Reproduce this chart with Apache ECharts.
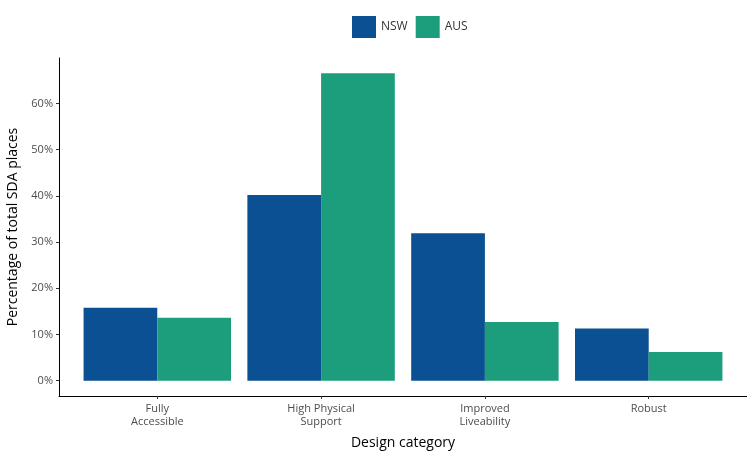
<!DOCTYPE html>
<html>
<head>
<meta charset="utf-8">
<script src="https://cdn.jsdelivr.net/npm/echarts@6/dist/echarts.min.js"></script>
<style>
html,body{margin:0;padding:0;background:#fff;}
#chart{width:747px;height:452px;}
</style>
</head>
<body>
<div id="chart"></div>
<script>
// ---- data ----
const categories = ["Fully\nAccessible", "High Physical\nSupport", "Improved\nLiveability", "Robust"];
const nswValues = [15.8, 40.2, 31.9, 11.3];
const ausValues = [13.6, 66.5, 12.7, 6.2];
const yTicks = [0, 10, 20, 30, 40, 50, 60];
const seriesNames = ["NSW", "AUS"];

// ---- layout (ggplot-like expansion) ----
const W = 747, H = 452;
const gridLeft = 59, gridRight = 0, gridTop = 58, gridBottom = 56;
const plotW = W - gridLeft - gridRight;
const n = categories.length;
const xMin = 0.4, xMax = n + 0.6;
const unit = plotW / (xMax - xMin);
const dataMax = Math.max(...nswValues, ...ausValues);
const yMin = -0.05 * dataMax, yMax = dataMax * 1.05;
const fontFam = "'Open Sans', 'Noto Sans', sans-serif";

const chart = echarts.init(document.getElementById('chart'), null, {renderer: 'canvas'});
const option = {
  backgroundColor: '#ffffff',
  animation: false,
  color: ['#0B5092', '#1C9E7D'],
  legend: {
    top: 11,
    left: 347,
    itemWidth: 24,
    itemHeight: 22,
    itemGap: 8,
    icon: 'rect',
    textStyle: {fontFamily: fontFam, fontSize: 12, color: '#333'},
    data: seriesNames
  },
  grid: [
    {left: gridLeft, right: gridRight, top: gridTop, bottom: gridBottom, outerBoundsMode: 'none', containLabel: false},
    {left: gridLeft + (0.5 - xMin) * unit, width: n * unit, top: gridTop, bottom: gridBottom, outerBoundsMode: 'none', containLabel: false}
  ],
  xAxis: [
    {
      type: 'value', gridIndex: 0, min: xMin, max: xMax,
      name: 'Design category', nameLocation: 'middle', nameGap: 40,
      nameTextStyle: {fontFamily: fontFam, fontSize: 14, color: '#000'},
      axisLine: {show: true, onZero: false, lineStyle: {color: '#000', width: 1}},
      axisTick: {show: true, length: 3, customValues: categories.map((c, i) => i + 1), lineStyle: {color: '#333'}},
      axisLabel: {
        show: true, customValues: categories.map((c, i) => i + 1), margin: 6,
        fontFamily: fontFam, fontSize: 11, color: '#4d4d4d', lineHeight: 13,
        formatter: v => categories[Math.round(v) - 1] || ''
      },
      splitLine: {show: false}
    },
    {
      type: 'category', gridIndex: 1, data: categories,
      axisLine: {show: false}, axisTick: {show: false}, axisLabel: {show: false}, splitLine: {show: false}
    }
  ],
  yAxis: [
    {
      type: 'value', gridIndex: 0, min: yMin, max: yMax,
      name: 'Percentage of total SDA places', nameLocation: 'middle', nameGap: 36, nameRotate: 90,
      nameTextStyle: {fontFamily: fontFam, fontSize: 14, color: '#000'},
      axisLine: {show: true, onZero: false, lineStyle: {color: '#000', width: 1}},
      axisTick: {show: true, length: 3, customValues: yTicks, lineStyle: {color: '#333'}},
      axisLabel: {
        show: true, customValues: yTicks, margin: 6,
        fontFamily: fontFam, fontSize: 11, color: '#4d4d4d',
        formatter: v => Math.round(v) + '%'
      },
      splitLine: {show: false}
    },
    {
      type: 'value', gridIndex: 1, min: yMin, max: yMax,
      axisLine: {show: false}, axisTick: {show: false}, axisLabel: {show: false}, splitLine: {show: false}
    }
  ],
  series: [
    {name: seriesNames[0], type: 'bar', xAxisIndex: 1, yAxisIndex: 1, data: nswValues, barWidth: '45%', barGap: '0%'},
    {name: seriesNames[1], type: 'bar', xAxisIndex: 1, yAxisIndex: 1, data: ausValues, barWidth: '45%', barGap: '0%'}
  ]
};
chart.setOption(option);
</script>
</body>
</html>
